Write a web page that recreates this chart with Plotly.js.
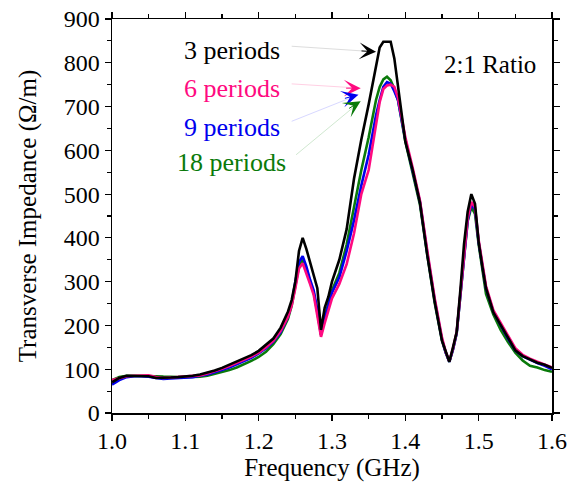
<!DOCTYPE html>
<html>
<head>
<meta charset="utf-8">
<script src="https://cdn.plot.ly/plotly-3.0.1.min.js"></script>
<style>html,body{margin:0;padding:0;background:#fff;}#chart{width:571px;height:487px;}</style>
</head>
<body>
<div id="chart"></div>
<script>
const freq = [1.000,1.01,1.02,1.03,1.04,1.05,1.06,1.07,1.08,1.09,1.10,1.11,1.12,1.13,1.14,1.15,1.16,1.17,1.18,1.19,1.20,1.21,1.22,1.23,1.24,1.245,1.25,1.255,1.26,1.265,1.27,1.275,1.28,1.285,1.29,1.295,1.30,1.31,1.32,1.33,1.34,1.35,1.36,1.365,1.37,1.375,1.38,1.385,1.39,1.40,1.41,1.42,1.43,1.44,1.45,1.455,1.46,1.465,1.47,1.475,1.48,1.485,1.49,1.495,1.50,1.505,1.51,1.52,1.53,1.54,1.55,1.56,1.57,1.58,1.59,1.60];

const periods3 = [70,80,85,85,85,84,80,80,81,82,83,85,88,92,97,103,110,117,124,132,142,155,170,195,232,258,300,370,400,375,345,315,285,190,240,265,300,350,420,535,625,705,790,835,848,848,848,810,745,620,555,480,360,255,165,140,117,150,185,280,385,460,500,478,390,335,285,230,200,170,143,130,123,115,110,103];
const periods6 = [75,80,84,85,85,86,82,80,81,82,83,84,86,90,95,101,107,114,121,129,138,150,165,188,220,245,285,330,342,320,295,270,225,174,205,235,262,295,340,410,500,555,660,710,740,748,750,745,720,630,560,485,370,262,172,140,118,148,185,270,370,445,482,470,395,340,290,235,205,175,148,133,124,117,110,104];
const periods9 = [65,75,82,84,84,83,80,78,79,80,81,82,85,88,93,98,104,111,118,126,136,148,163,185,220,250,300,345,358,335,305,280,235,180,215,245,275,310,370,440,520,590,680,715,745,756,752,735,715,625,555,482,365,258,168,138,117,145,182,268,365,440,478,465,390,335,285,232,200,170,143,130,122,114,108,100];
const periods18 = [75,82,85,85,85,85,84,83,82,82,82,82,83,85,89,93,98,104,111,119,128,140,157,180,215,245,290,335,350,330,300,275,230,178,218,250,280,320,385,470,555,630,715,745,762,768,760,740,715,620,550,475,360,252,165,138,117,145,182,265,360,438,470,455,385,328,272,225,190,162,138,120,108,104,98,94];

const seriesNames = ["3 periods","6 periods","9 periods","18 periods"];
const seriesColors = ["#000000","#ff0a80","#0000ee","#0a7a0a"];
const faintColors = ["#dddddd","#ffd0e4","#d8d8ff","#d0e8d0"];
const seriesData = [periods3, periods6, periods9, periods18];

const labelPos = [[1.1636,829],[1.1636,742],[1.1636,653],[1.1636,573]];
const lineStart = [[1.243,838],[1.243,752],[1.243,665],[1.249,587]];
const arrowTip = [[1.360,825],[1.339,742],[1.336,727],[1.339,712]];
const headOffset = [[-16,-1],[-16,0],[-15,4],[-13,8]];

const font = "'Liberation Serif', 'Times New Roman', Times, serif";

const traces = seriesData.map((ys, i) => ({
  x: freq, y: ys, type: "scatter", mode: "lines",
  name: seriesNames[i],
  line: {color: seriesColors[i], width: 2.6, shape: "linear"},
  showlegend: false
}));
traces.reverse();

const annotations = [];
seriesNames.forEach((n, i) => {
  annotations.push({x: labelPos[i][0], y: labelPos[i][1], xref: "x", yref: "y",
    text: n, showarrow: false, font: {family: font, size: 26, color: seriesColors[i]}});
  annotations.push({x: arrowTip[i][0], y: arrowTip[i][1], xref: "x", yref: "y",
    ax: lineStart[i][0], ay: lineStart[i][1], axref: "x", ayref: "y",
    text: "", showarrow: true, arrowhead: 0, arrowwidth: 1, arrowcolor: faintColors[i], standoff: 0});
  annotations.push({x: arrowTip[i][0], y: arrowTip[i][1], xref: "x", yref: "y",
    ax: headOffset[i][0], ay: headOffset[i][1],
    text: "", showarrow: true, arrowhead: 3, arrowsize: 2.8, arrowwidth: 1, arrowcolor: seriesColors[i], standoff: 0});
});
annotations.push({x: 1.5155, y: 797, xref: "x", yref: "y", text: "2:1 Ratio", showarrow: false,
  font: {family: font, size: 25, color: "#000"}});

const layout = {
  width: 571, height: 487,
  margin: {l: 112, r: 19, t: 19, b: 74},
  paper_bgcolor: "#fff", plot_bgcolor: "#fff",
  font: {family: font, size: 24, color: "#000"},
  xaxis: {
    range: [1.0, 1.6], dtick: 0.1, tick0: 1.0, tickformat: ".1f",
    ticks: "outside", ticklen: 6, tickwidth: 1.2, tickcolor: "#000",
    minor: {dtick: 0.05, ticks: "outside", ticklen: 4, tickcolor: "#000"},
    showline: true, linecolor: "#000", linewidth: 1.5, mirror: "ticks",
    showgrid: false, zeroline: false,
    tickfont: {family: font, size: 24, color: "#000"},
    title: {text: "Frequency (GHz)", font: {family: font, size: 25, color: "#000"}, standoff: 0}
  },
  yaxis: {
    range: [0, 900], dtick: 100, tick0: 0,
    ticks: "outside", ticklen: 6, tickwidth: 1.2, tickcolor: "#000",
    minor: {dtick: 50, ticks: "outside", ticklen: 4, tickcolor: "#000"},
    showline: true, linecolor: "#000", linewidth: 1.5, mirror: "ticks",
    showgrid: false, zeroline: false,
    tickfont: {family: font, size: 24, color: "#000"},
    title: {text: "Transverse Impedance (Ω/m)", font: {family: font, size: 25, color: "#000"}, standoff: 20}
  },
  annotations: annotations
};

Plotly.newPlot("chart", traces, layout, {displayModeBar: false, staticPlot: true});
</script>
</body>
</html>
